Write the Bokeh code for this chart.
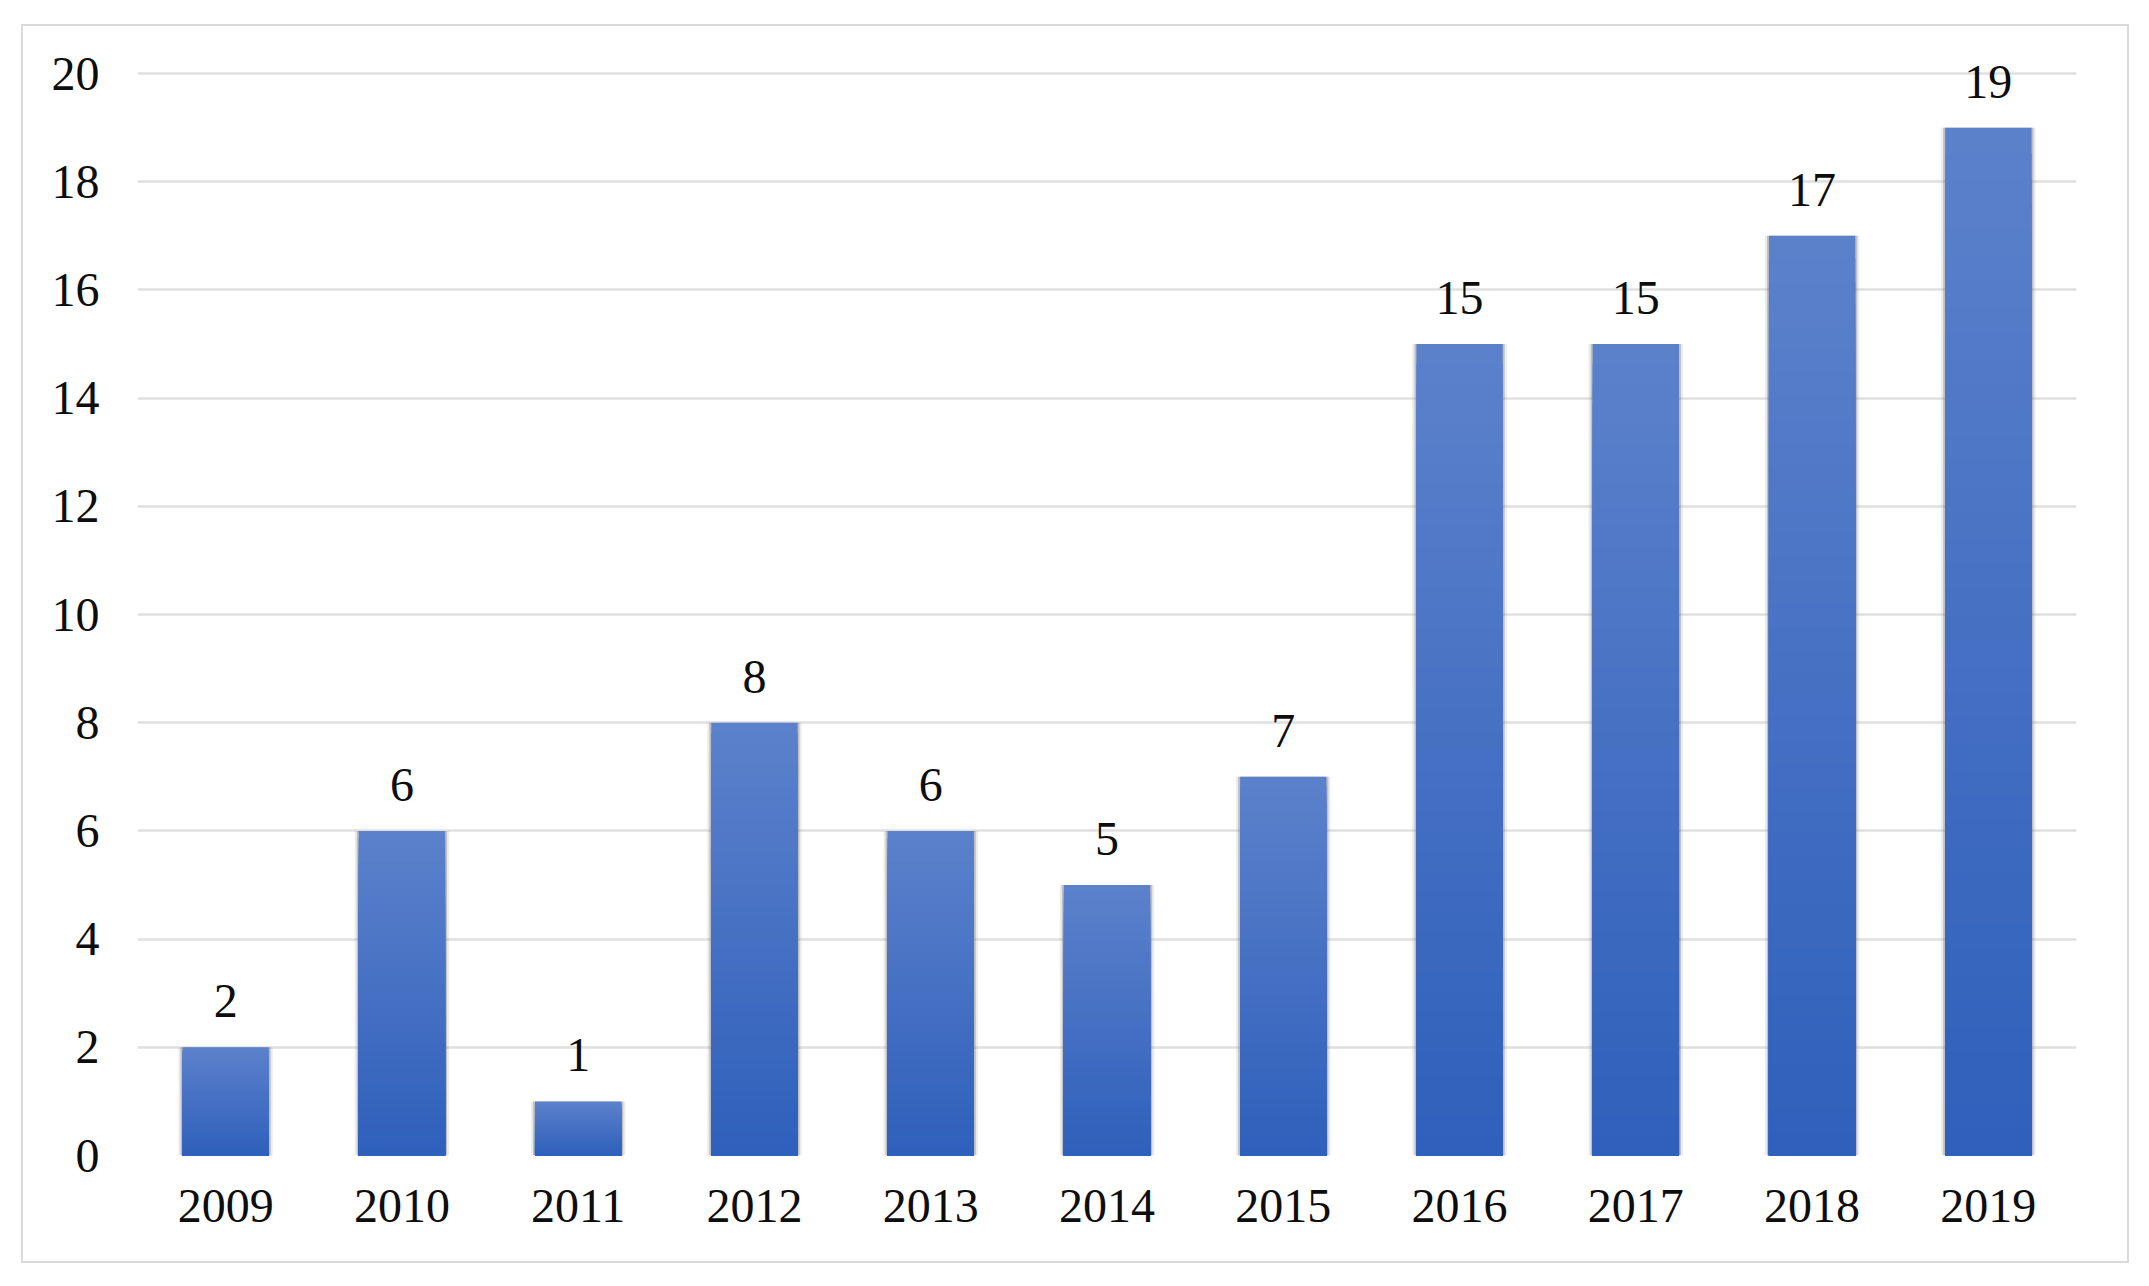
from bokeh.plotting import figure
from bokeh.models import FactorRange, Range1d, FixedTicker, ColumnDataSource
from bokeh.embed import file_html
from bokeh.resources import INLINE
from bokeh.core.properties import value

years = ["2009", "2010", "2011", "2012", "2013", "2014", "2015", "2016", "2017", "2018", "2019"]
counts = [2, 6, 1, 8, 6, 5, 7, 15, 15, 17, 19]
y_ticks = [0, 2, 4, 6, 8, 10, 12, 14, 16, 18, 20]

W, H = 2108, 1239
p = figure(width=W, height=H, x_range=FactorRange(factors=years, range_padding=0),
           y_range=Range1d(0, 20.5), output_backend="svg", toolbar_location=None,
           min_border_left=114, min_border_right=55, min_border_top=20, min_border_bottom=110)
p.styles = {"border": "2.5px solid #dadada", "margin-left": "21px", "margin-top": "24px"}
p.outline_line_color = None
p.background_fill_color = "white"
p.border_fill_color = "white"

font = "Liberation Serif"
p.yaxis.ticker = FixedTicker(ticks=y_ticks)
p.yaxis.axis_line_color = None
p.xaxis.axis_line_color = None
for ax in (p.xaxis, p.yaxis):
    ax.major_tick_line_color = None
    ax.minor_tick_line_color = None
    ax.major_label_text_font = font
    ax.major_label_text_font_size = "48px"
    ax.major_label_text_color = "#0d0d0d"
p.yaxis.major_label_standoff = 32
p.xaxis.major_label_standoff = 28
p.xgrid.grid_line_color = None
p.ygrid.grid_line_color = "#e0e0e0"
p.ygrid.grid_line_width = 2.5

# soft shadow behind bars
p.vbar(x=years, top=counts, width=0.535, bottom=-0.08, fill_color="#9a9a9a", fill_alpha=0.2,
       line_color=None)
p.vbar(x=years, top=counts, width=0.512, bottom=-0.04, fill_color="#6f6f6f", fill_alpha=0.35,
       line_color=None)

# vertical gradient per bar: lighter top, darker bottom
top_rgb = (92, 129, 203)
bot_rgb = (46, 95, 187)
N = 40
for k in range(N):
    frac = (N - k) / N
    c = tuple(int(round(bot_rgb[i] + (top_rgb[i] - bot_rgb[i]) * frac)) for i in range(3))
    col = "#%02x%02x%02x" % c
    src = ColumnDataSource(dict(x=years, top=[v * frac for v in counts]))
    p.vbar(x="x", top="top", width=0.49, source=src, fill_color=col, line_color=None)

lab = ColumnDataSource(dict(x=years, y=counts, t=[str(v) for v in counts]))
p.text(x="x", y="y", text="t", source=lab, text_font=value(font), text_font_size="48px",
       text_color="#0d0d0d", text_align="center", text_baseline="alphabetic", y_offset=-46)

open("out.html", "w").write(file_html(p, INLINE))
